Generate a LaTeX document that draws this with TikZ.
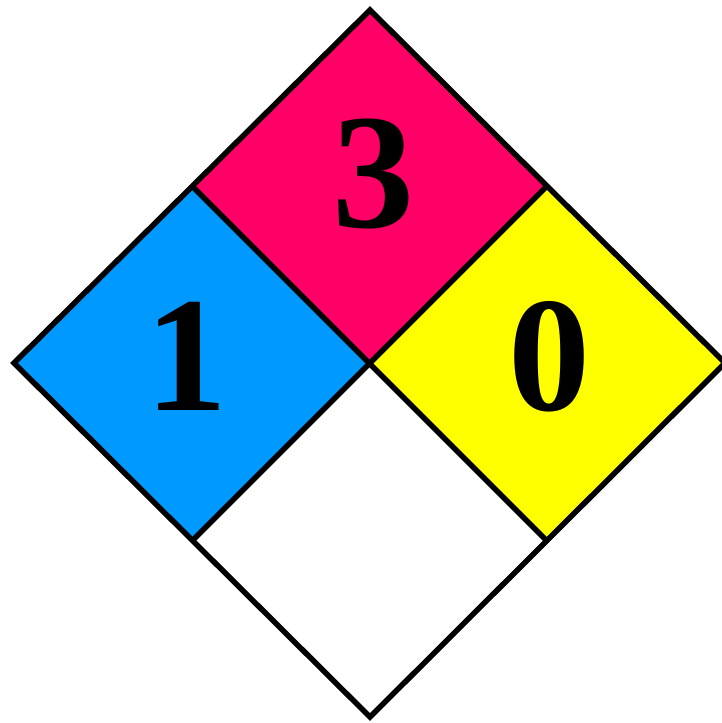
\documentclass[tikz,border=0pt]{standalone}
\usepackage{fontspec}
\setmainfont{Liberation Serif}
\definecolor{nfpared}{RGB}{255,0,102}
\definecolor{nfpablue}{RGB}{0,153,255}
\definecolor{nfpayellow}{RGB}{255,255,0}
\begin{document}
\begin{tikzpicture}[x=1pt,y=-1pt,
  edge/.style={draw=black,line width=5.5pt,line join=miter},
  digit/.style={inner sep=0pt,font=\bfseries\fontsize{164}{164}\selectfont}]
\useasboundingbox (0,0) rectangle (721,723);
\coordinate (T) at (370,10);
\coordinate (L) at (14,363);
\coordinate (R) at (725,363);
\coordinate (B) at (370,717);
\coordinate (C) at (370,362);
\coordinate (TL) at (193,187);
\coordinate (TR) at (546,187);
\coordinate (BL) at (193,540);
\coordinate (BR) at (546,540);
\fill[nfpared] (T) -- (TR) -- (C) -- (TL) -- cycle;
\fill[nfpablue] (TL) -- (C) -- (BL) -- (L) -- cycle;
\fill[nfpayellow] (TR) -- (R) -- (BR) -- (C) -- cycle;
\fill[white] (C) -- (BR) -- (B) -- (BL) -- cycle;
\draw[edge] (T) -- (R) -- (B) -- (L) -- cycle;
\draw[edge] (TL) -- (BR);
\draw[edge] (TR) -- (BL);
\node[digit] (n3) at (373,174) {3};
\node[digit] (n1) at (186,356) {1};
\node[digit] (n0) at (549,357) {0};
\end{tikzpicture}
\end{document}
